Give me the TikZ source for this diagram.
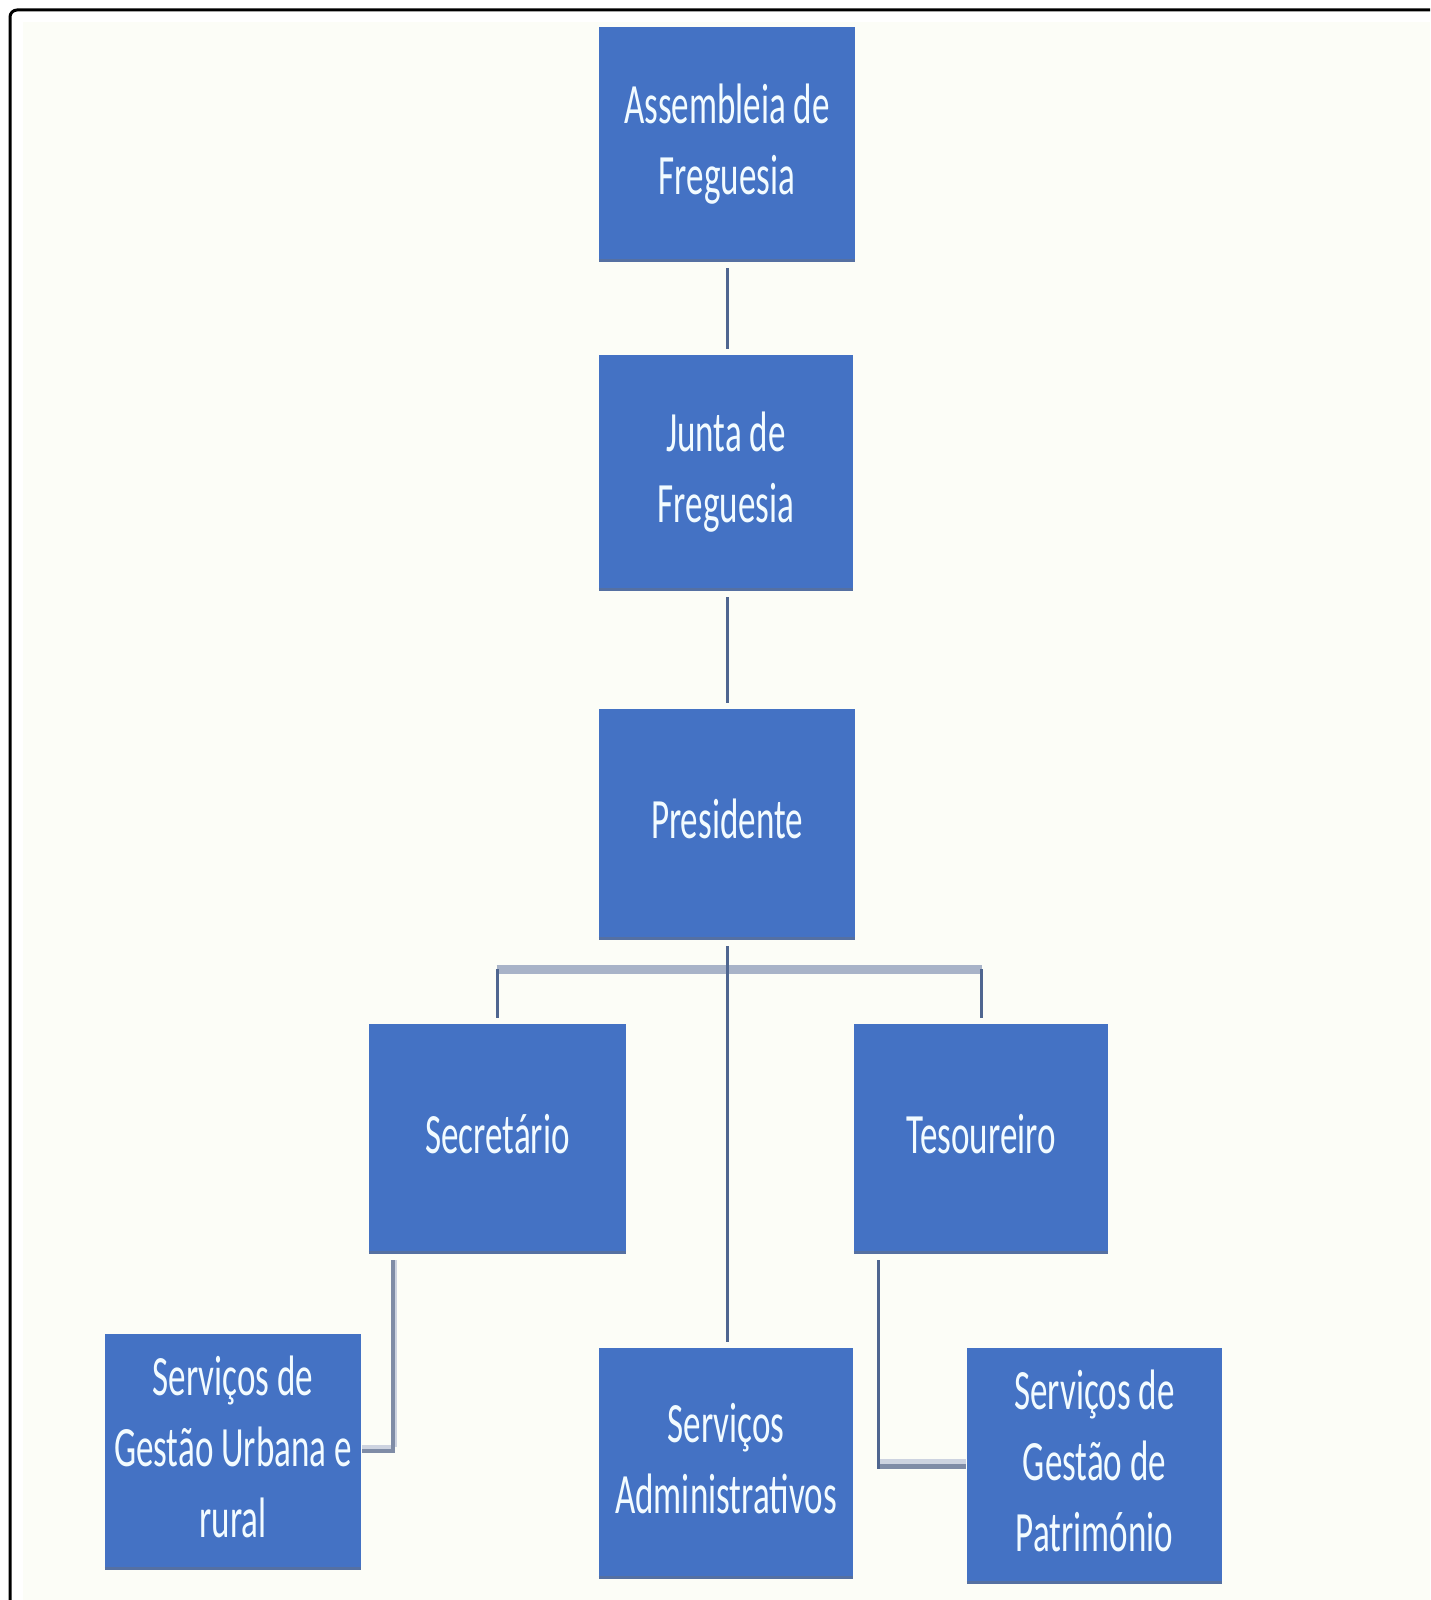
\documentclass[tikz,border=0pt]{standalone}
\usepackage{fontspec}
\setmainfont{Carlito}
\usetikzlibrary{calc}
\definecolor{boxblue}{HTML}{4472C4}
\definecolor{boxedge}{HTML}{5570A2}
\definecolor{bgc}{HTML}{FCFDF7}
\definecolor{linedark}{HTML}{4F6690}
\definecolor{linemid}{HTML}{7F8CA6}
\definecolor{linelight}{HTML}{CDD3E0}
\definecolor{barc}{HTML}{A8B3C8}
\definecolor{txt}{HTML}{F2FBFF}
\newcommand{\bt}[1]{\scalebox{0.615}[1]{\begin{tabular}{@{}c@{}}#1\end{tabular}}}
\begin{document}
\begin{tikzpicture}[x=1pt,y=-1pt,
  orgbox/.style={rectangle, fill=boxblue, inner sep=0pt, text=txt,
    font=\fontsize{57}{71}\selectfont, align=center},
  thinline/.style={draw=linedark, line width=3pt},
  barline/.style={draw=barc, line width=9pt}]
\useasboundingbox (0,0) rectangle (1430,1600);
\clip (0,0) rectangle (1430,1600);
\fill[white] (0,0) rectangle (1430,1600);
\fill[bgc] (23,22) rectangle (1430,1600);
\draw[black, line width=3pt, rounded corners=7pt] (10,1700) -- (10,10) -- (1500,10);

\node[orgbox, minimum width=256, minimum height=235] (A) at (727,144.5) {\bt{Assembleia de\\Freguesia}};
\node[orgbox, minimum width=254, minimum height=236] (J) at (726,473) {\bt{Junta de\\Freguesia}};
\node[orgbox, minimum width=256, minimum height=231] (P) at (727,824.5) {\bt{Presidente}};
\node[orgbox, minimum width=257, minimum height=230] (S) at (497.5,1139) {\bt{Secretário}};
\node[orgbox, minimum width=254, minimum height=230] (T) at (981,1139) {\bt{Tesoureiro}};
\node[orgbox, minimum width=256, minimum height=236] (U) at (233,1452) {\bt{Serviços de\\Gestão Urbana e\\rural}};
\node[orgbox, minimum width=254, minimum height=231] (Ad) at (726,1463.5) {\bt{Serviços\\Administrativos}};
\node[orgbox, minimum width=255, minimum height=236] (Pa) at (1094.5,1466) {\bt{Serviços de\\Gestão de\\Património}};

\foreach \n in {A,J,P,S,T,U,Ad,Pa}
  \draw[boxedge, line width=3pt] ([yshift=1.5pt]\n.south west) -- ([yshift=1.5pt]\n.south east);

% vertical chain
\coordinate (cx) at (727,0);
\draw[thinline] ([yshift=-6pt]A.south -| cx) -- ([yshift=6pt]J.north -| cx);
\draw[thinline] ([yshift=-6pt]J.south -| cx) -- ([yshift=6pt]P.north -| cx);
% bar
\coordinate (barL) at ($(S.north)+(0,-54.5)$);
\coordinate (barR) at ($(T.north)+(0,-54.5)$);
\draw[barline] ($(barL)+(-1,0)$) -- ($(barR)+(1,0)$);
\draw[thinline] (barL) -- ([yshift=6pt]S.north);
\draw[thinline] (barR) -- ([yshift=6pt]T.north);
\draw[thinline] ([yshift=-6pt]P.south -| cx) -- ([yshift=6pt]Ad.north -| cx);

% secretario -> gestao urbana
\coordinate (sv) at ($(S.south west)+(24,6)$);
\coordinate (sh) at ($(U.east)+(1,-1)$);
\draw[linelight, line width=3pt] ($(sv)+(3,0)$) -- ($(sh -| sv)+(3,-4)$);
\draw[linelight, line width=4pt] ($(sh)+(0,-4)$) -- ($(sh -| sv)+(0,-4)$);
\draw[linemid, line width=4pt] (sv) |- (sh);

% tesoureiro -> patrimonio
\coordinate (tv) at ($(T.south west)+(25,6)$);
\coordinate (th) at ($(Pa.west)+(-1,-2)$);
\draw[linelight, line width=5pt] ($(th -| tv)+(0,-2.5)$) -- ($(th)+(0,-2.5)$);
\draw[linemid, line width=5pt] ($(th -| tv)+(0,2.5)$) -- ($(th)+(0,2.5)$);
\draw[thinline] (tv) -- ($(th -| tv)+(0,5)$);
\end{tikzpicture}
\end{document}
